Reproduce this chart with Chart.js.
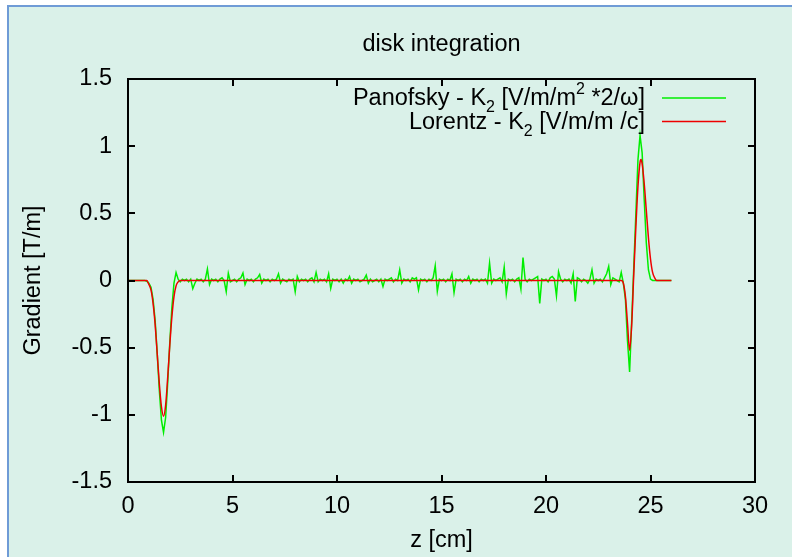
<!DOCTYPE html>
<html>
<head>
<meta charset="utf-8">
<title>disk integration</title>
<script src="https://cdn.jsdelivr.net/npm/chart.js@4.4.1/dist/chart.umd.min.js"></script>
<style>
  html, body { margin: 0; padding: 0; background: #ffffff; }
  #wrap { position: relative; width: 792px; height: 557px; }
</style>
</head>
<body>
<div id="wrap"><canvas id="gradChart" width="792" height="557"></canvas></div>
<script>
// axis ticks
const xTicks = [0, 5, 10, 15, 20, 25, 30];
const yTicks = [-1.5, -1, -0.5, 0, 0.5, 1, 1.5];

// Panofsky K2, sampled every 0.1 cm from z = 0.0 to 26.0 (one row per cm)
const Z_STEP = 0.1;
const panofskyK2 = [
  0, 0, 0, 0, 0, 0, 0, 0, 0, -0.005,
  -0.02, -0.05, -0.14, -0.30, -0.55, -0.82, -1.04, -1.13, -1.02, -0.76,
  -0.46, -0.20, -0.02, 0.06, 0.01, -0.01, 0.01, 0.00, 0.01, -0.01,
  0.01, -0.06, -0.02, 0.01, 0.00, 0.01, -0.01, 0.01, 0.086, -0.03,
  0.01, 0.00, 0.01, -0.01, 0.01, 0.02, 0.00, -0.083, 0.054, -0.01,
  0.00, 0.01, -0.01, 0.01, 0.02, 0.055, -0.03, 0.01, 0.00, 0.01,
  -0.01, 0.01, 0.02, 0.045, -0.02, 0.01, 0.00, 0.01, -0.01, 0.01,
  0.00, 0.01, 0.05, -0.02, 0.01, 0.00, -0.01, 0.01, 0.00, 0.01,
  -0.083, 0.03, -0.01, 0.01, 0.00, 0.01, -0.01, 0.01, 0.02, -0.01,
  0.06, -0.01, 0.01, 0.00, 0.01, -0.01, 0.05, -0.058, 0.01, 0.00,
  0.01, -0.01, 0.01, -0.02, 0.01, 0.00, 0.03, -0.02, 0.01, 0.00,
  0.01, -0.01, 0.00, 0.01, 0.04, -0.02, 0.01, -0.01, 0.00, 0.01,
  -0.01, 0.01, -0.045, 0.01, 0.00, 0.01, 0.02, -0.01, 0.01, 0.00,
  0.08, -0.02, 0.01, 0.00, 0.01, -0.01, 0.02, 0.01, 0.02, -0.07,
  0.01, 0.00, 0.01, -0.01, 0.01, 0.00, 0.02, 0.11, -0.08, 0.01,
  0.00, 0.01, -0.01, 0.01, 0.00, 0.05, -0.09, 0.01, 0.00, 0.01,
  -0.01, 0.01, 0.00, 0.03, -0.02, 0.01, 0.00, 0.01, -0.01, 0.01,
  0.00, 0.01, -0.02, 0.13, -0.02, 0.01, 0.00, 0.01, 0.02, -0.01,
  0.10, -0.10, 0.01, 0.00, 0.01, -0.01, 0.01, 0.02, -0.065, 0.17,
  0.01, -0.01, 0.01, 0.00, 0.01, 0.02, 0.03, -0.17, 0.01, 0.00,
  0.01, -0.01, 0.02, 0.03, 0.01, -0.115, 0.065, 0.01, -0.01, 0.01,
  0.00, 0.01, -0.02, 0.05, -0.155, 0.02, 0.01, -0.01, 0.01, 0.00,
  -0.02, 0.01, 0.08, -0.02, 0.01, 0.00, 0.01, -0.01, 0.02, 0.05,
  0.105, -0.03, 0.02, 0.01, 0.00, -0.01, 0.06, -0.02, -0.14, -0.45,
  -0.68, -0.30, 0.10, 0.50, 0.90, 1.08, 0.95, 0.60, 0.28, 0.08,
  0.01, 0.00, 0, 0, 0, 0, 0, 0, 0, 0,
  0
];

// Lorentz K2 (smooth, so only where it changes)
const lorentzZ = [0, 0.9, 1.0, 1.1, 1.2, 1.3, 1.4, 1.5, 1.6, 1.7, 1.8, 1.9, 2.0, 2.1, 2.2, 2.3, 2.4, 2.5,
  23.6, 23.7, 23.8, 23.9, 24.0, 24.1, 24.2, 24.3, 24.4, 24.5, 24.55, 24.6, 24.7, 24.8, 24.9, 25.0, 25.1, 25.2, 25.3, 26.0];
const lorentzK2 = [0, 0, -0.03, -0.07, -0.17, -0.33, -0.55, -0.77, -0.94, -1.01, -0.93, -0.72, -0.48, -0.27, -0.12, -0.04, -0.01, 0,
  0, -0.02, -0.12, -0.32, -0.52, -0.33, 0.05, 0.40, 0.70, 0.88, 0.90, 0.87, 0.72, 0.52, 0.32, 0.16, 0.06, 0.02, 0, 0];

const FONT = '"Liberation Sans", Arial, Helvetica, sans-serif';
const GREEN = '#00ee00';
const RED = '#ee0000';

const pageFrame = {
  id: 'pageFrame',
  beforeDraw(chart) {
    const ctx = chart.ctx;
    ctx.save();
    ctx.fillStyle = '#ffffff';
    ctx.fillRect(0, 0, chart.width, chart.height);
    ctx.fillStyle = '#daf1e9';
    ctx.fillRect(7, 5, chart.width - 7, chart.height - 5);
    ctx.fillStyle = '#6f9bd6';
    ctx.fillRect(7, 5, 2, chart.height - 5);
    ctx.fillRect(7, 5, chart.width - 7, 2);
    ctx.restore();
  }
};

// gnuplot style frame with inward ticks, title and key
const gnuplotFrame = {
  id: 'gnuplotFrame',
  afterDraw(chart) {
    const ctx = chart.ctx;
    const { left, right, top, bottom } = chart.chartArea;
    const xs = chart.scales.x, ys = chart.scales.y;
    const tick = 7;
    ctx.save();
    ctx.strokeStyle = '#000';
    ctx.lineWidth = 2;
    ctx.beginPath();
    xTicks.forEach(v => {
      const px = Math.round(xs.getPixelForValue(v));
      ctx.moveTo(px, bottom); ctx.lineTo(px, bottom - tick);
      ctx.moveTo(px, top); ctx.lineTo(px, top + tick);
    });
    yTicks.forEach(v => {
      const py = Math.round(ys.getPixelForValue(v));
      ctx.moveTo(left, py); ctx.lineTo(left + tick, py);
      ctx.moveTo(right, py); ctx.lineTo(right - tick, py);
    });
    ctx.stroke();
    ctx.strokeRect(left, top, right - left, bottom - top);

    ctx.fillStyle = '#000';
    ctx.font = '23.5px ' + FONT;
    ctx.textAlign = 'center';
    ctx.textBaseline = 'alphabetic';
    ctx.fillText('disk integration', (left + right) / 2, 51);

    // key: text right aligned, sample line to the right
    const keys = [
      { parts: [['Panofsky - K', 0], ['2', 1], [' [V/m/m', 0], ['2', -1], [' *2/\u03c9]', 0]], color: GREEN, y: 105 },
      { parts: [['Lorentz - K', 0], ['2', 1], [' [V/m/m /c]', 0]], color: RED, y: 128.5 }
    ];
    const textRight = 645;
    ctx.textAlign = 'left';
    keys.forEach(k => {
      const fontFor = s => (s === 0 ? '23.5px ' : '16px ') + FONT;
      let w = 0;
      k.parts.forEach(([t, s]) => { ctx.font = fontFor(s); w += ctx.measureText(t).width; });
      let x = textRight - w;
      k.parts.forEach(([t, s]) => {
        ctx.font = fontFor(s);
        const dy = s === 1 ? 7 : (s === -1 ? -11 : 0);
        ctx.fillText(t, x, k.y + dy);
        x += ctx.measureText(t).width;
      });
      ctx.strokeStyle = k.color;
      ctx.lineWidth = 1.5;
      ctx.beginPath();
      ctx.moveTo(662, k.y - 7);
      ctx.lineTo(726, k.y - 7);
      ctx.stroke();
    });
    ctx.restore();
  }
};

const fmt = v => String(Number(v.toFixed(1)));

const ctx = document.getElementById('gradChart').getContext('2d');
new Chart(ctx, {
  type: 'line',
  data: {
    datasets: [
      {
        label: 'Panofsky - K2 [V/m/m2 *2/\u03c9]',
        data: panofskyK2.map((k, i) => ({ x: +(i * Z_STEP).toFixed(1), y: k })),
        borderColor: GREEN,
        borderWidth: 1.5,
        pointRadius: 0,
        tension: 0,
        order: 1
      },
      {
        label: 'Lorentz - K2 [V/m/m /c]',
        data: lorentzZ.map((z, i) => ({ x: z, y: lorentzK2[i] })),
        borderColor: RED,
        borderWidth: 1.5,
        pointRadius: 0,
        cubicInterpolationMode: 'monotone',
        order: 0
      }
    ]
  },
  options: {
    responsive: false,
    animation: false,
    events: [],
    layout: { padding: { left: 0, right: 37, top: 79, bottom: 0 } },
    plugins: {
      legend: { display: false },
      title: { display: false },
      tooltip: { enabled: false }
    },
    scales: {
      x: {
        type: 'linear',
        min: 0,
        max: 30,
        afterFit: s => { s.height = 75; },
        afterBuildTicks: s => { s.ticks = xTicks.map(v => ({ value: v })); },
        grid: { display: false, drawTicks: false },
        border: { display: false },
        ticks: { color: '#000', padding: 10, maxRotation: 0, font: { family: FONT, size: 23.5 }, callback: fmt },
        title: { display: true, text: 'z [cm]', color: '#000', padding: { top: 0, bottom: 2 }, font: { family: FONT, size: 23.5 } }
      },
      y: {
        type: 'linear',
        min: -1.5,
        max: 1.5,
        afterFit: s => { s.width = 128; },
        afterBuildTicks: s => { s.ticks = yTicks.map(v => ({ value: v })); },
        grid: { display: false, drawTicks: false },
        border: { display: false },
        ticks: { color: '#000', padding: 16, font: { family: FONT, size: 23.5 }, callback: fmt },
        title: { display: true, text: 'Gradient [T/m]', color: '#000', padding: { top: 19, bottom: 0 }, font: { family: FONT, size: 23.5 } }
      }
    }
  },
  plugins: [pageFrame, gnuplotFrame]
});
</script>
</body>
</html>
